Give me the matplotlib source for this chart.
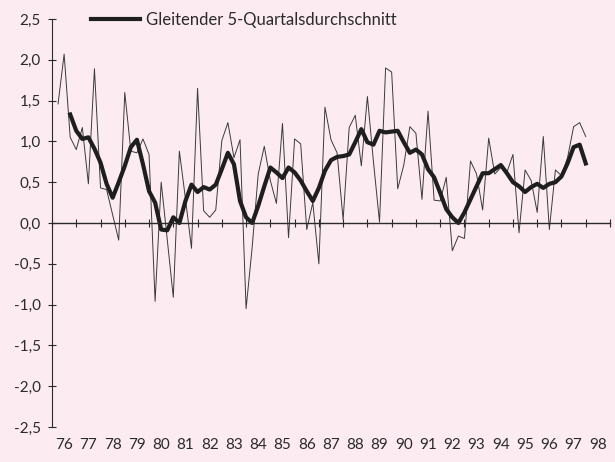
import matplotlib.pyplot as plt
import numpy as np

# quarterly values 1976 Q1 - 1997 Q4
quarterly = [1.46, 2.07, 1.05, 0.90, 1.17, 0.48, 1.89, 0.43, 0.41, 0.10,
             -0.21, 1.60, 0.88, 0.86, 1.03, 0.84, -0.96, 0.50, -0.20, -0.91,
             0.88, 0.30, -0.31, 1.65, 0.15, 0.07, 0.16, 1.01, 1.23, 0.80,
             1.02, -1.05, -0.30, 0.60, 0.94, 0.52, 0.24, 1.22, -0.18, 1.03,
             0.97, -0.08, 0.25, -0.50, 1.42, 1.02, 0.86, 0.04, 1.17, 1.32,
             0.70, 1.55, 0.75, 0.01, 1.90, 1.85, 0.42, 0.71, 1.18, 1.10,
             0.29, 1.37, 0.28, 0.27, 0.56, -0.34, -0.16, -0.19, 0.76, 0.60,
             0.16, 1.04, 0.60, 0.68, 0.62, 0.84, -0.12, 0.65, 0.52, 0.13,
             1.06, -0.08, 0.65, 0.58, 0.80, 1.18, 1.23, 1.06]

# moving average (5 quarters), starts at 1976 Q3
moving_avg = [1.33, 1.13, 1.03, 1.05, 0.91, 0.74, 0.48, 0.31, 0.50, 0.70,
              0.93, 1.02, 0.72, 0.39, 0.25, -0.08, -0.09, 0.07, 0.00, 0.27,
              0.47, 0.38, 0.44, 0.41, 0.47, 0.66, 0.86, 0.72, 0.27, 0.07,
              0.00, 0.21, 0.45, 0.68, 0.62, 0.55, 0.68, 0.62, 0.52, 0.39,
              0.27, 0.43, 0.64, 0.77, 0.81, 0.82, 0.84, 0.99, 1.15, 0.99,
              0.96, 1.13, 1.11, 1.12, 1.13, 0.99, 0.86, 0.90, 0.84, 0.66,
              0.56, 0.37, 0.17, 0.07, 0.00, 0.13, 0.29, 0.45, 0.61, 0.61,
              0.66, 0.71, 0.61, 0.50, 0.45, 0.38, 0.44, 0.48, 0.43, 0.48,
              0.50, 0.57, 0.73, 0.93, 0.96, 0.73]

years = list(range(1976, 1999))
year_labels = [str(y)[2:] for y in years]
y_ticks = [2.5, 2.0, 1.5, 1.0, 0.5, 0.0, -0.5, -1.0, -1.5, -2.0, -2.5]

bg = '#fcecf1'
ink = '#2a2a2a'
plt.rcParams['font.family'] = ['Lato', 'DejaVu Sans']

t_q = 1976 + 0.25 * (np.arange(len(quarterly)) + 1)
t_ma = t_q[2:2 + len(moving_avg)]

fig = plt.figure(figsize=(6.15, 4.62), dpi=100, facecolor=bg)
ax = fig.add_axes([52 / 615, 1 - 427 / 462, 558 / 615, 408 / 462])
ax.set_facecolor(bg)

ax.plot(t_q, quarterly, color='#3a3a3a', lw=0.7)
ax.plot(t_ma, moving_avg, color='#1e1e1e', lw=3.0, solid_joinstyle='round',
        label='Gleitender 5-Quartalsdurchschnitt')

ax.set_xlim(1976, 1999)
ax.set_ylim(-2.5, 2.5)

for s in ['top', 'right']:
    ax.spines[s].set_visible(False)
ax.spines['bottom'].set_position(('data', 0))
ax.spines['bottom'].set_color(ink)
ax.spines['left'].set_color(ink)
ax.spines['bottom'].set_linewidth(1.0)
ax.spines['left'].set_linewidth(0.8)

ax.set_xticks(years + [1999])
ax.set_xticklabels([])
ax.tick_params(axis='x', direction='inout', length=6, width=0.8, color=ink)

ax.set_yticks(y_ticks)
ax.set_yticklabels([f'{v:.1f}'.replace('.', ',') for v in y_ticks])
ax.tick_params(axis='y', direction='inout', length=6, width=0.8, color=ink,
               labelcolor=ink, labelsize=11, pad=5)

sec = ax.secondary_xaxis(0)
sec.set_xticks(np.array(years) + 0.5)
sec.set_xticklabels(year_labels)
sec.spines['bottom'].set_visible(False)
sec.tick_params(length=0, pad=8, labelsize=11, labelcolor=ink)

leg = ax.legend(loc='upper left', bbox_to_anchor=(0.043, 1.055), frameon=False,
                fontsize=12, handlelength=2.95, handletextpad=0.35,
                labelcolor=ink)

fig.savefig('out.png', dpi=100, facecolor=bg)
